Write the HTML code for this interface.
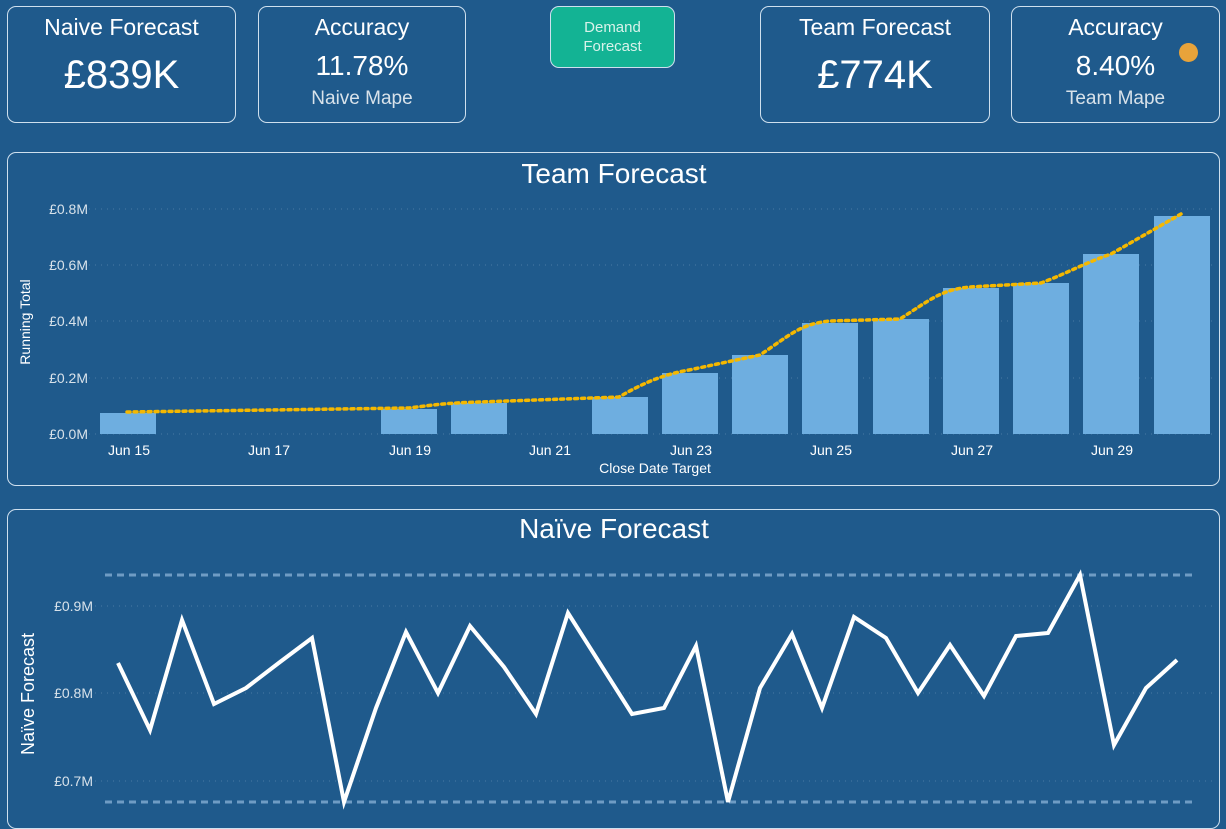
<!DOCTYPE html><html><head><style>
body{margin:0;width:1226px;height:810px;background:#1f5a8c;overflow:hidden;font-family:"Liberation Sans",sans-serif;color:#fff;position:relative}
.c{position:absolute;border:1px solid #cfe0ee;border-radius:9px;box-sizing:border-box;text-align:center}
.t{font-size:23px;margin-top:7px}
.b{font-size:40px;margin-top:12px}
.m{font-size:28px;margin-top:9px}
.s{font-size:19px;color:#d8e2ea;margin-top:6px}
</style></head><body>
<div class="c" style="left:7px;top:6px;width:229px;height:117px"><div class="t">Naive Forecast</div><div class="b">£839K</div></div>
<div class="c" style="left:258px;top:6px;width:208px;height:117px"><div class="t">Accuracy</div><div class="m">11.78%</div><div class="s">Naive Mape</div></div>
<div class="c" style="left:550px;top:6px;width:125px;height:62px;background:#13b394;color:#d8f2ea;font-size:15px;line-height:19px;padding-top:11px">Demand<br>Forecast</div>
<div class="c" style="left:760px;top:6px;width:230px;height:117px"><div class="t">Team Forecast</div><div class="b">£774K</div></div>
<div class="c" style="left:1011px;top:6px;width:209px;height:117px"><div class="t">Accuracy</div><div class="m">8.40%</div><div class="s">Team Mape</div></div>
<div style="position:absolute;left:1179px;top:43px;width:19px;height:19px;border-radius:50%;background:#e8a33a"></div>
<div class="c" style="left:7px;top:152px;width:1213px;height:334px"></div>
<div class="c" style="left:7px;top:509px;width:1213px;height:320px"></div>
<svg width="1226" height="810" style="position:absolute;left:0;top:0" font-family="Liberation Sans,sans-serif">
<text x="614" y="183" font-size="28" fill="#fff" text-anchor="middle">Team Forecast</text>
<g stroke="#4a7aa3" stroke-dasharray="1 5">
<line x1="83" y1="209" x2="1212" y2="209"/><line x1="83" y1="265" x2="1212" y2="265"/><line x1="83" y1="321" x2="1212" y2="321"/><line x1="83" y1="378" x2="1212" y2="378"/><line x1="83" y1="434" x2="1212" y2="434"/></g>
<g font-size="14" fill="#d8e2ea" text-anchor="end"><text x="88" y="214">£0.8M</text><text x="88" y="270">£0.6M</text><text x="88" y="326">£0.4M</text><text x="88" y="383">£0.2M</text><text x="88" y="439">£0.0M</text></g>
<text transform="translate(30,322) rotate(-90)" font-size="14" fill="#fff" text-anchor="middle">Running Total</text>
<g fill="#6eaee0">
<rect x="100" y="413" width="56" height="21"/><rect x="381" y="409" width="56" height="25"/><rect x="451" y="403" width="56" height="31"/><rect x="592" y="397" width="56" height="37"/><rect x="662" y="373" width="56" height="61"/><rect x="732" y="355" width="56" height="79"/><rect x="802" y="323" width="56" height="111"/><rect x="873" y="319" width="56" height="115"/><rect x="943" y="288" width="56" height="146"/><rect x="1013" y="283" width="56" height="151"/><rect x="1083" y="254" width="56" height="180"/><rect x="1154" y="216" width="56" height="218"/></g>
<path d="M127 412 L409 408 C440 404 450 403 479 402 L619 397 C640 385 660 375 689 370 L760 355 C790 335 800 324 830 321 L900 319 C930 300 940 290 970 287 L1041 283 C1070 272 1080 265 1111 254 L1181 214" fill="none" stroke="#f5b800" stroke-width="3.5" stroke-dasharray="3 4" stroke-linecap="round"/>
<g font-size="14" fill="#fff" text-anchor="middle"><text x="129" y="455">Jun 15</text><text x="269" y="455">Jun 17</text><text x="410" y="455">Jun 19</text><text x="550" y="455">Jun 21</text><text x="691" y="455">Jun 23</text><text x="831" y="455">Jun 25</text><text x="972" y="455">Jun 27</text><text x="1112" y="455">Jun 29</text></g>
<text x="655" y="473" font-size="14" fill="#fff" text-anchor="middle">Close Date Target</text>
<text x="614" y="538" font-size="28" fill="#fff" text-anchor="middle">Naïve Forecast</text>
<g stroke="#6f9cc4" stroke-width="3" stroke-dasharray="7 5"><line x1="105" y1="575" x2="1192" y2="575"/><line x1="105" y1="802" x2="1192" y2="802"/></g>
<g stroke="#4a7aa3" stroke-dasharray="1 5"><line x1="95" y1="606" x2="1212" y2="606"/><line x1="95" y1="693" x2="1212" y2="693"/><line x1="95" y1="781" x2="1212" y2="781"/></g>
<g font-size="14" fill="#d8e2ea" text-anchor="end"><text x="93" y="611">£0.9M</text><text x="93" y="698">£0.8M</text><text x="93" y="786">£0.7M</text></g>
<text transform="translate(34,694) rotate(-90)" font-size="18" fill="#fff" text-anchor="middle">Naïve Forecast</text>
<polyline fill="none" stroke="#fff" stroke-width="4" stroke-linejoin="miter" points="118,663 150,730 182,620 214,704 246,688 280,662 312,638 344,802 376,708 406,632 438,693 470,626 504,667 536,714 568,613 632,714 664,708 696,646 728,802 760,688 792,634 822,708 854,617 886,638 918,693 950,645 984,696 1016,636 1048,633 1080,575 1114,745 1146,688 1177,660"/>
</svg>
</body></html>
